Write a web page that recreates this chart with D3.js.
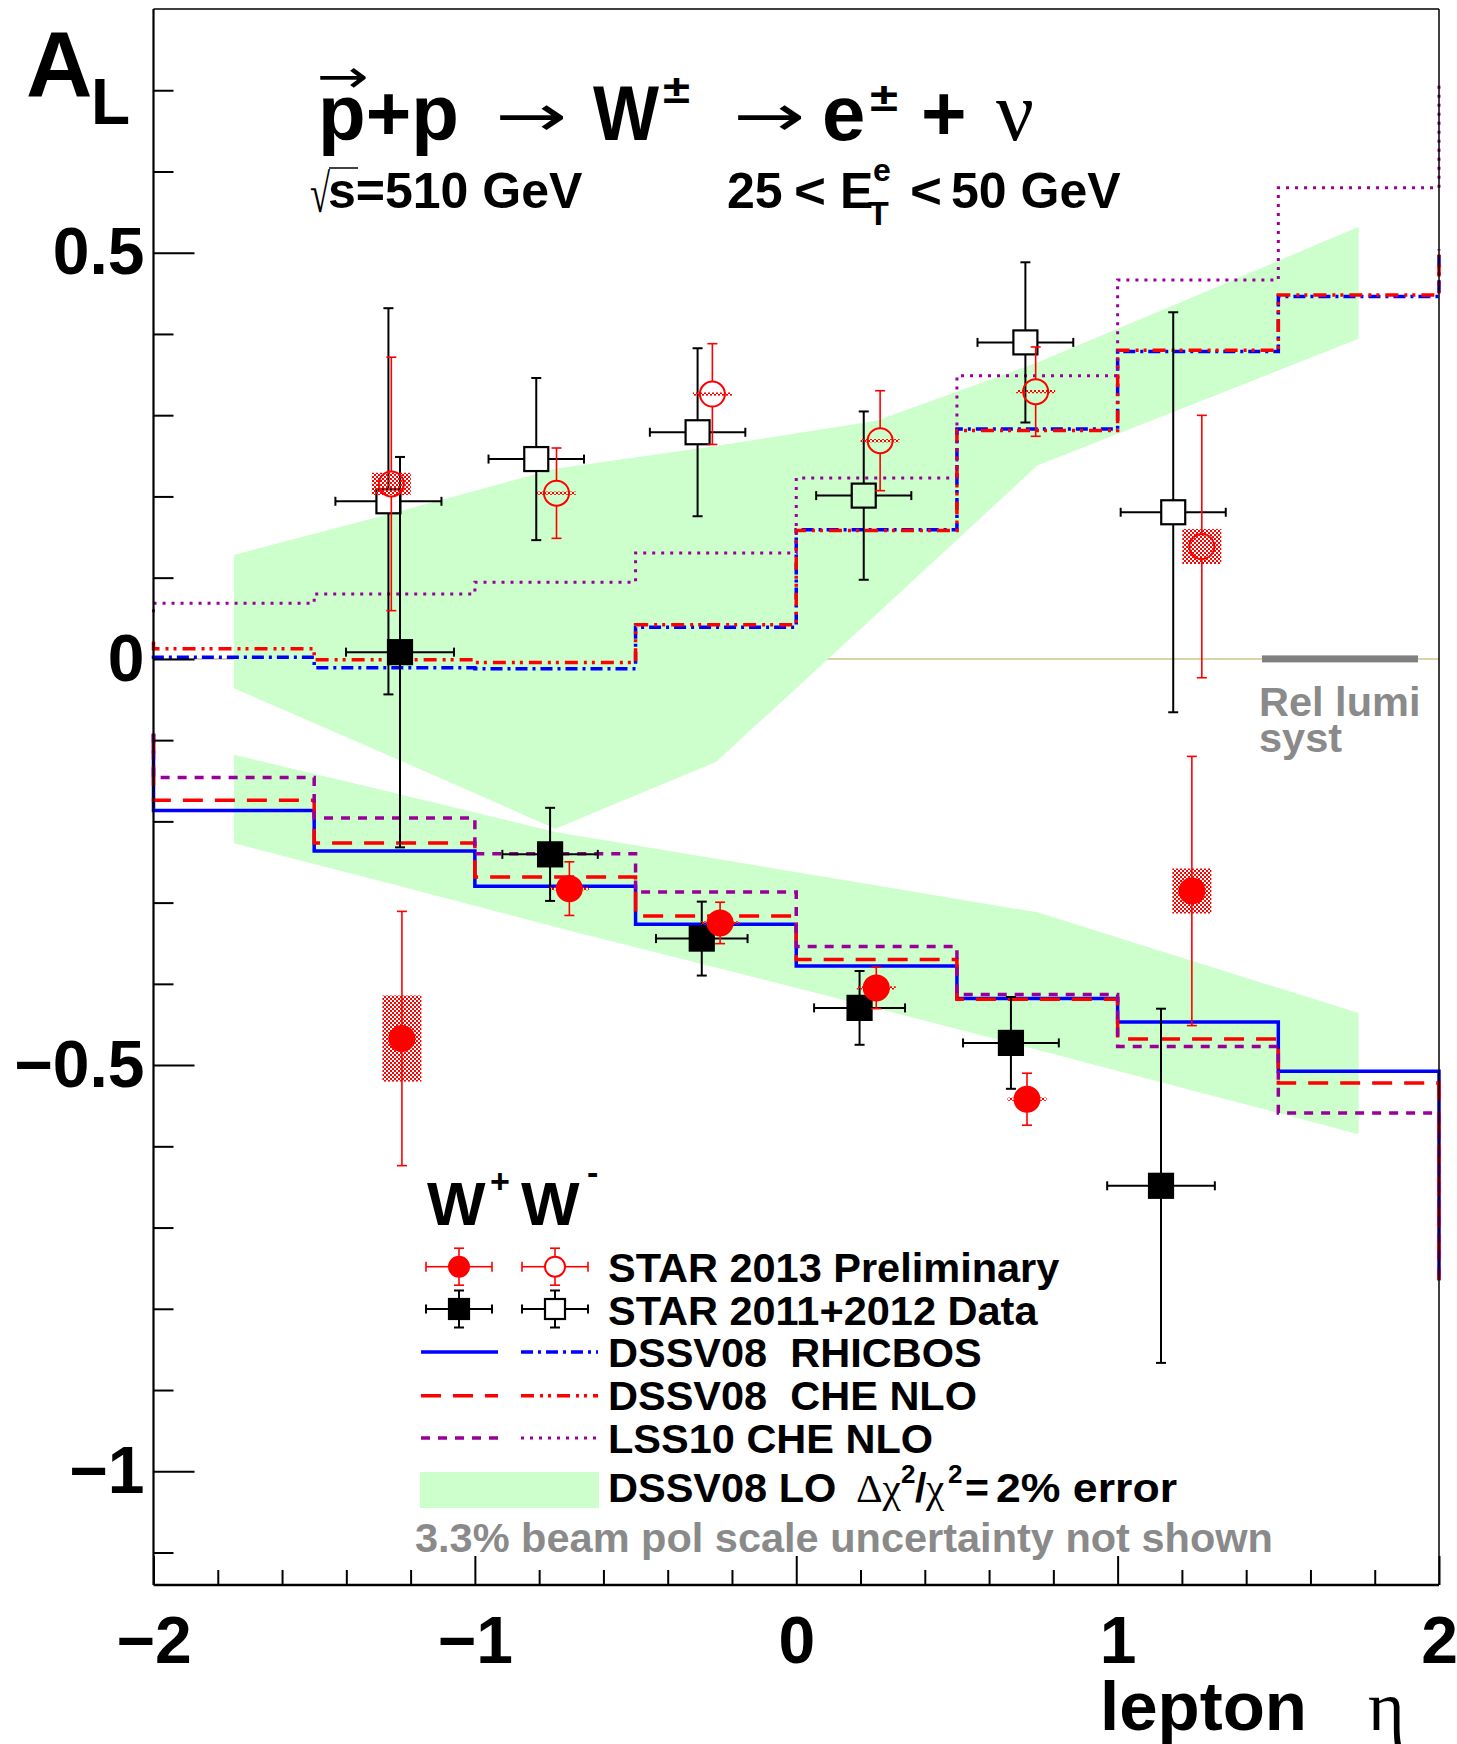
<!DOCTYPE html>
<html>
<head>
<meta charset="utf-8">
<script src="https://cdn.jsdelivr.net/npm/d3@7"></script>
<style>
  body { margin: 0; background: #fff; }
  svg text { font-family: "Liberation Sans", Arial, Helvetica, sans-serif; font-weight: bold; }
  .serif { font-family: "Liberation Serif", "Times New Roman", serif; font-weight: normal; }
  .arrow { font-family: "DejaVu Sans", sans-serif; font-weight: normal; }
</style>
</head>
<body>
<svg id="chart" width="1457" height="1744"></svg>
<script>
// ---- data ----
const binEdges = [-2, -1.5, -1, -0.5, 0, 0.5, 1, 1.5, 2];
const bandEta = [-1.75, -1.25, -0.75, -0.25, 0.25, 0.75, 1.25, 1.75];

// DSSV08 LO 2% error bands
const wpBandHi = [0.128, 0.180, 0.234, 0.262, 0.293, 0.365, 0.448, 0.532];
const wpBandLo = [-0.036, -0.122, -0.209, -0.127, 0.055, 0.238, 0.316, 0.394];
const wmBandHi = [-0.118, -0.165, -0.213, -0.246, -0.279, -0.312, -0.374, -0.436];
const wmBandLo = [-0.227, -0.278, -0.330, -0.380, -0.430, -0.481, -0.533, -0.585];

// theory histograms (one value per eta bin)
const wpRhicbos = [0.002, -0.011, -0.012, 0.039, 0.159, 0.283, 0.3785, 0.446];
const wpCheNlo = [0.0124, -0.001, -0.0044, 0.042, 0.158, 0.281, 0.380, 0.448];
const wpLss10 = [0.0685, 0.080, 0.0944, 0.1305, 0.2228, 0.3486, 0.4663, 0.580];
const wmRhicbos = [-0.1865, -0.2365, -0.280, -0.3267, -0.378, -0.418, -0.447, -0.5075];
const wmCheNlo = [-0.174, -0.2267, -0.2685, -0.3165, -0.370, -0.419, -0.468, -0.522];
const wmLss10 = [-0.146, -0.196, -0.240, -0.287, -0.354, -0.413, -0.477, -0.559];
// outline start (eta=-2) and end (eta=+2) values: rhicbos, che, lss10
const wpOutlineStart = [0.0, 0.021, 0.0575];
const wpOutlineEnd = [0.504, 0.504, 0.712];
const wmOutlineStart = [-0.092, -0.092, -0.092];
const wmOutlineEnd = [-0.765, -0.765, -0.765];

// STAR 2013 preliminary
const star13WpEta = [-1.260, -0.746, -0.261, 0.261, 0.745, 1.262];
const star13WpA = [0.2154, 0.204, 0.326, 0.2686, 0.329, 0.1383];
const star13WpErr = [0.156, 0.0556, 0.062, 0.0615, 0.055, 0.1615];
const star13WpSys = [0.0137, 0.002, 0.002, 0.002, 0.002, 0.0215];
const star13WmEta = [-1.227, -0.706, -0.237, 0.249, 0.718, 1.231];
const star13WmA = [-0.4673, -0.2828, -0.325, -0.405, -0.542, -0.2857];
const star13WmErr = [0.1565, 0.033, 0.0255, 0.0255, 0.032, 0.1657];
const star13WmSys = [0.053, 0.002, 0.002, 0.002, 0.002, 0.0277];

// STAR 2011+2012
const star1112WpEta = [-1.269, -0.809, -0.307, 0.210, 0.713, 1.173];
const star1112WpA = [0.194, 0.246, 0.279, 0.201, 0.3896, 0.1805];
const star1112WpErr = [0.2377, 0.0998, 0.1034, 0.1036, 0.0986, 0.2462];
const star1112WpXErr = [0.165, 0.1485, 0.1485, 0.148, 0.149, 0.1635];
const star1112WmEta = [-1.233, -0.766, -0.294, 0.197, 0.668, 1.135];
const star1112WmA = [0.0083, -0.2406, -0.3443, -0.4296, -0.4727, -0.6486];
const star1112WmErr = [0.2403, 0.0573, 0.0455, 0.0454, 0.0565, 0.218];
const star1112WmXErr = [0.168, 0.1485, 0.1425, 0.1415, 0.149, 0.1675];

const yMajor = [-1, -0.5, 0, 0.5];
const xMajor = [-2, -1, 0, 1, 2];

// ---- setup ----
const svg = d3.select("#chart");
const x = d3.scaleLinear().domain([-2, 2]).range([153.5, 1439]);
const y = d3.scaleLinear().domain([-1.14, 0.8]).range([1585, 9]);

const BLUE = "#0000ff", RED = "#ff0000", PURPLE = "#990099", GREEN = "#ccffcc", GREY = "#8a8a8a";

const defs = svg.append("defs");
const pat = defs.append("pattern").attr("id", "checker")
  .attr("width", 4).attr("height", 4).attr("patternUnits", "userSpaceOnUse");
pat.append("rect").attr("width", 2).attr("height", 2).attr("fill", RED);
pat.append("rect").attr("x", 2).attr("y", 2).attr("width", 2).attr("height", 2).attr("fill", RED);

// zero line
svg.append("line")
  .attr("x1", x(-2)).attr("x2", x(2)).attr("y1", y(0)).attr("y2", y(0))
  .attr("stroke", "#cdc58a").attr("stroke-width", 1.5);

// bands
const band = d3.area()
  .x((d, i) => x(bandEta[i]))
  .y0(d => y(d[0]))
  .y1(d => y(d[1]));
svg.append("path").datum(d3.zip(wmBandLo, wmBandHi)).attr("d", band).attr("fill", GREEN);
svg.append("path").datum(d3.zip(wpBandLo, wpBandHi)).attr("d", band).attr("fill", GREEN);

// step histograms
const stepPoints = (vals, start, end) => {
  const pts = [[binEdges[0], start]];
  vals.forEach((v, i) => {
    pts.push([binEdges[i], v]);
    pts.push([binEdges[i + 1], v]);
  });
  pts.push([binEdges[binEdges.length - 1], end]);
  return pts;
};
const line = d3.line().x(d => x(d[0])).y(d => y(d[1]));

const curves = [
  { vals: wmRhicbos, start: wmOutlineStart[0], end: wmOutlineEnd[0], color: BLUE, dash: null, w: 3.5 },
  { vals: wmCheNlo, start: wmOutlineStart[1], end: wmOutlineEnd[1], color: RED, dash: "20,12", w: 3.5 },
  { vals: wmLss10, start: wmOutlineStart[2], end: wmOutlineEnd[2], color: PURPLE, dash: "9,8", w: 3.5 },
  { vals: wpRhicbos, start: wpOutlineStart[0], end: wpOutlineEnd[0], color: BLUE, dash: "12,5,3,5", w: 3.5 },
  { vals: wpCheNlo, start: wpOutlineStart[1], end: wpOutlineEnd[1], color: RED, dash: "13,6,3,5,3,6", w: 3.5 },
  { vals: wpLss10, start: wpOutlineStart[2], end: wpOutlineEnd[2], color: PURPLE, dash: "3,6", w: 3 }
];
svg.append("g").selectAll("path").data(curves).join("path")
  .attr("d", c => line(stepPoints(c.vals, c.start, c.end)))
  .attr("fill", "none")
  .attr("stroke", c => c.color)
  .attr("stroke-width", c => c.w)
  .attr("stroke-dasharray", c => c.dash);

// rel lumi syst bar
svg.append("rect").attr("x", 1262).attr("y", y(0) - 3.5).attr("width", 156).attr("height", 7).attr("fill", "#808080");
svg.append("text").attr("x", 1259).attr("y", 716).attr("font-size", 41.5).attr("fill", GREY).text("Rel lumi");
svg.append("text").attr("x", 1259).attr("y", 752).attr("font-size", 41.5).attr("fill", GREY).text("syst");

// ---- data points ----
const vbar = (g, cx, yTop, yBot, color, w, cap, gap) => {
  if (gap) {
    g.append("line").attr("x1", cx).attr("x2", cx).attr("y1", yTop).attr("y2", gap[0]).attr("stroke", color).attr("stroke-width", w);
    g.append("line").attr("x1", cx).attr("x2", cx).attr("y1", gap[1]).attr("y2", yBot).attr("stroke", color).attr("stroke-width", w);
  } else {
    g.append("line").attr("x1", cx).attr("x2", cx).attr("y1", yTop).attr("y2", yBot).attr("stroke", color).attr("stroke-width", w);
  }
  [yTop, yBot].forEach(yy => g.append("line").attr("x1", cx - cap).attr("x2", cx + cap)
    .attr("y1", yy).attr("y2", yy).attr("stroke", color).attr("stroke-width", w));
};
const hbar = (g, cy, xL, xR, color, w, cap, gap) => {
  g.append("line").attr("x1", xL).attr("x2", gap[0]).attr("y1", cy).attr("y2", cy).attr("stroke", color).attr("stroke-width", w);
  g.append("line").attr("x1", gap[1]).attr("x2", xR).attr("y1", cy).attr("y2", cy).attr("stroke", color).attr("stroke-width", w);
  [xL, xR].forEach(xx => g.append("line").attr("x1", xx).attr("x2", xx)
    .attr("y1", cy - cap).attr("y2", cy + cap).attr("stroke", color).attr("stroke-width", w));
};

const star13 = (etas, vals, errs, syss, filled) => {
  const g = svg.append("g");
  const r = 12.5;
  etas.forEach((e, i) => {
    const cx = x(e), cy = y(vals[i]);
    g.append("rect")
      .attr("x", cx - 19.5).attr("width", 39)
      .attr("y", y(vals[i] + syss[i])).attr("height", Math.max(2, y(vals[i] - syss[i]) - y(vals[i] + syss[i])))
      .attr("fill", "url(#checker)");
    vbar(g, cx, y(vals[i] + errs[i]), y(vals[i] - errs[i]), RED, 1.6, 5, filled ? null : [cy - r, cy + r]);
    g.append("circle").attr("cx", cx).attr("cy", cy).attr("r", r)
      .attr("fill", filled ? RED : "none").attr("stroke", RED).attr("stroke-width", 2);
  });
};

const star1112 = (etas, vals, errs, xerrs, filled) => {
  const g = svg.append("g");
  const h = 12;
  etas.forEach((e, i) => {
    const cx = x(e), cy = y(vals[i]);
    vbar(g, cx, y(vals[i] + errs[i]), y(vals[i] - errs[i]), "#000", 2, 5, [cy - h, cy + h]);
    hbar(g, cy, x(e - xerrs[i]), x(e + xerrs[i]), "#000", 2, 4.5, [cx - h, cx + h]);
    g.append("rect").attr("x", cx - h).attr("y", cy - h).attr("width", 2 * h).attr("height", 2 * h)
      .attr("fill", filled ? "#000" : "none").attr("stroke", "#000").attr("stroke-width", 2.2);
  });
};

star1112(star1112WpEta, star1112WpA, star1112WpErr, star1112WpXErr, false);
star1112(star1112WmEta, star1112WmA, star1112WmErr, star1112WmXErr, true);
star13(star13WpEta, star13WpA, star13WpErr, star13WpSys, false);
star13(star13WmEta, star13WmA, star13WmErr, star13WmSys, true);

// ---- axes ----
const fmt = d3.format("~g");
const yMinor = d3.range(-11, 8).map(d => d / 10).filter(d => !yMajor.some(m => Math.abs(m - d) < 1e-9));
const xMinor = d3.range(-10, 11).map(d => d / 5).filter(d => !xMajor.some(m => Math.abs(m - d) < 1e-9));

const yAx = svg.append("g").attr("transform", `translate(${x(-2)},0)`)
  .call(d3.axisLeft(y).tickValues(yMajor).tickSize(-41).tickPadding(9).tickFormat(fmt));
svg.append("g").attr("transform", `translate(${x(-2)},0)`)
  .call(d3.axisLeft(y).tickValues(yMinor).tickSize(-20).tickFormat(""));
const xAx = svg.append("g").attr("transform", `translate(0,${y(-1.14)})`)
  .call(d3.axisBottom(x).tickValues(xMajor).tickSize(-29).tickPadding(31).tickFormat(fmt));
svg.append("g").attr("transform", `translate(0,${y(-1.14)})`)
  .call(d3.axisBottom(x).tickValues(xMinor).tickSize(-15).tickFormat(""));
svg.selectAll(".domain").remove();
svg.selectAll(".tick line").attr("stroke", "#000").attr("stroke-width", 2);
[yAx, xAx].forEach(a => a.selectAll("text")
  .attr("font-size", 66).attr("font-family", "Liberation Sans, Arial, sans-serif")
  .attr("font-weight", "bold").attr("fill", "#000"));

// frame
svg.append("line").attr("x1", x(-2)).attr("x2", x(-2)).attr("y1", y(0.8)).attr("y2", y(-1.14)).attr("stroke", "#000").attr("stroke-width", 2.2);
svg.append("line").attr("x1", x(-2)).attr("x2", x(2)).attr("y1", y(-1.14)).attr("y2", y(-1.14)).attr("stroke", "#000").attr("stroke-width", 2.5);
svg.append("line").attr("x1", x(-2)).attr("x2", x(2)).attr("y1", y(0.8)).attr("y2", y(0.8)).attr("stroke", "#000").attr("stroke-width", 1.5);
svg.append("line").attr("x1", x(2)).attr("x2", x(2)).attr("y1", y(0.8)).attr("y2", y(-1.14)).attr("stroke", "#000").attr("stroke-width", 1.5);

// ---- titles ----
const txt = (t, xx, yy, size, cls, len) => {
  const el = svg.append("text").attr("x", xx).attr("y", yy).attr("font-size", size).text(t);
  if (cls) el.attr("class", cls);
  if (len) el.attr("textLength", len).attr("lengthAdjust", "spacingAndGlyphs");
  return el;
};
txt("A", 26, 96, 92);
txt("L", 91, 124, 64);

txt("p+p", 318, 140, 78);
txt("\u2192", 317, 92, 46, "arrow", 52);
txt("\u2192", 495, 136, 58, "arrow", 72);
txt("W", 593, 140, 78, null, 66);
txt("\u00b1", 663, 103, 40, null, 27);
txt("\u2192", 733, 136, 58, "arrow", 72);
txt("e", 822, 140, 78);
txt("\u00b1", 870, 111, 40, null, 28);
txt("+", 921, 140, 78);
txt("\u03bd", 996, 140, 84, "serif");

txt("\u221a", 310, 212, 54, "serif", 20);
svg.append("line").attr("x1", 329).attr("x2", 358).attr("y1", 168).attr("y2", 168).attr("stroke", "#000").attr("stroke-width", 1.5);
txt("s=510 GeV", 328, 208, 50);
txt("25", 727, 208, 50);
txt("<", 794, 208, 50, null, 32);
txt("E", 840, 208, 50);
txt("e", 873, 181, 32);
txt("T", 868, 225, 34);
txt("<", 910, 208, 50, null, 32);
txt("50 GeV", 951, 208, 50);

txt("lepton", 1100, 1730, 69);
txt("\u03b7", 1368, 1730, 70, "serif");

// ---- legend ----
txt("W", 427, 1225, 62);
txt("+", 490, 1193, 34);
txt("W", 521, 1225, 62);
txt("-", 587, 1184, 34);

const legRows = [1266.7, 1309, 1352, 1395.7, 1438, 1490];
const legBase = [1281.7, 1325, 1367, 1410, 1453, 1502];
const lg = svg.append("g");
// markers
[[459, true], [555, false]].forEach(([cx, filled]) => {
  const cy = legRows[0], r = 10;
  vbar(lg, cx, cy - 18.5, cy + 18.5, RED, 1.6, 5, [cy - r, cy + r]);
  hbar(lg, cy, cx - 33, cx + 33, RED, 1.6, 5, [cx - r, cx + r]);
  lg.append("circle").attr("cx", cx).attr("cy", cy).attr("r", r)
    .attr("fill", filled ? RED : "none").attr("stroke", RED).attr("stroke-width", 2);
});
[[459, true], [555, false]].forEach(([cx, filled]) => {
  const cy = legRows[1], h = 10;
  vbar(lg, cx, cy - 18.5, cy + 18.5, "#000", 2, 5, [cy - h, cy + h]);
  hbar(lg, cy, cx - 33, cx + 33, "#000", 2, 4.5, [cx - h, cx + h]);
  lg.append("rect").attr("x", cx - h).attr("y", cy - h).attr("width", 2 * h).attr("height", 2 * h)
    .attr("fill", filled ? "#000" : "none").attr("stroke", "#000").attr("stroke-width", 2.2);
});
// lines
const legLines = [
  [legRows[2], curves[0], curves[3]],
  [legRows[3], curves[1], curves[4]],
  [legRows[4], curves[2], curves[5]]
];
legLines.forEach(([cy, a, b]) => {
  [[421, 498, a], [521, 598, b]].forEach(([x1, x2, c]) => {
    lg.append("line").attr("x1", x1).attr("x2", x2).attr("y1", cy).attr("y2", cy)
      .attr("stroke", c.color).attr("stroke-width", c.w).attr("stroke-dasharray", c.dash);
  });
});
lg.append("rect").attr("x", 420).attr("y", 1472).attr("width", 179).attr("height", 36).attr("fill", GREEN);

const legText = ["STAR 2013 Preliminary", "STAR 2011+2012 Data", "DSSV08\u00a0\u00a0RHICBOS", "DSSV08\u00a0\u00a0CHE NLO", "LSS10 CHE NLO"];
legText.forEach((t, i) => txt(t, 608, legBase[i], 41.5));
txt("DSSV08 LO", 608, legBase[5], 41.5);
txt("\u0394\u03c7", 856, legBase[5], 41, "serif", 45);
txt("2", 901, legBase[5] - 19, 26);
txt("/", 915, legBase[5], 41);
txt("\u03c7", 926, legBase[5], 41, "serif");
txt("2", 948, legBase[5] - 19, 26);
txt("=", 965, legBase[5], 41.5, null, 24);
txt("2% error", 996, legBase[5], 41.5, null, 181);
txt("3.3% beam pol scale uncertainty not shown", 415, 1552, 41.5).attr("fill", GREY);
</script>
</body>
</html>
